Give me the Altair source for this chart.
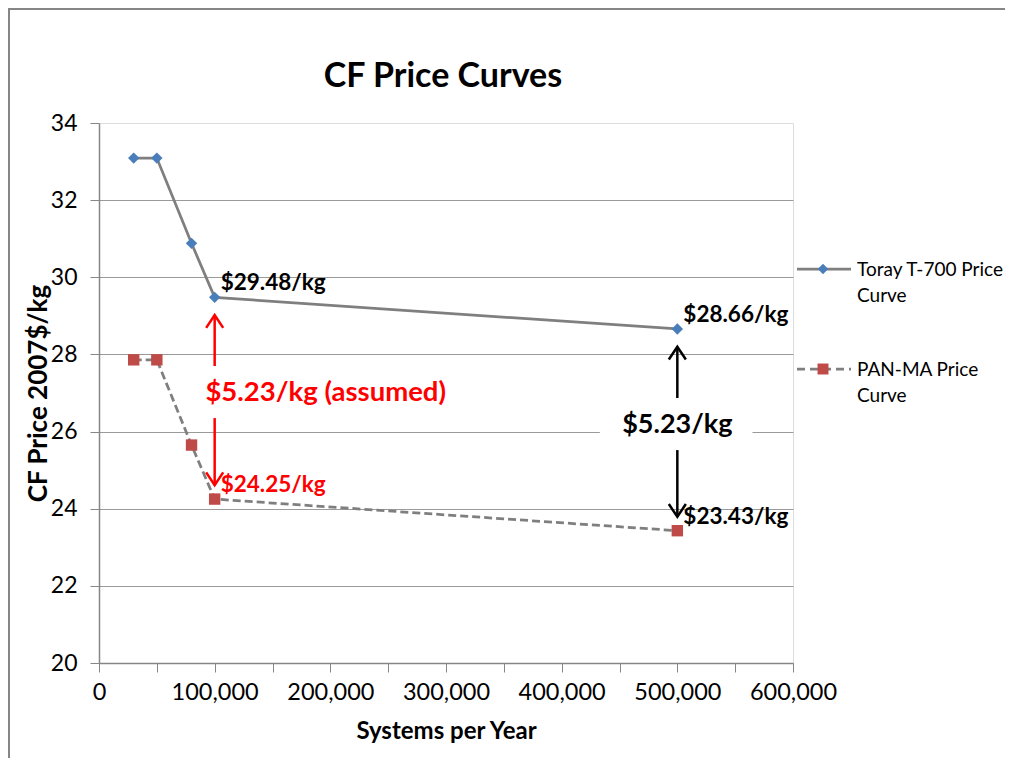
import altair as alt
import pandas as pd

# ---------------- data ----------------
chart_title = "CF Price Curves"
systems = [30000, 50000, 80000, 100000, 500000]
toray_price = [33.09, 33.09, 30.88, 29.48, 28.66]
pan_price = [27.86, 27.86, 25.65, 24.25, 23.43]
series_names = ["Toray T-700 Price Curve", "PAN-MA Price Curve"]
legend_lines = [["Toray T-700 Price", "Curve"], ["PAN-MA Price", "Curve"]]

label_x = [100000, 500000, 100000, 500000]
label_y = [29.48, 28.66, 24.25, 23.43]
label_text = ["$29.48/kg", "$28.66/kg", "$24.25/kg", "$23.43/kg"]
label_color = ["#000000", "#000000", "#FF0000", "#000000"]

gap_arrow_x = [100000, 500000]
gap_text_x = [196000, 500000]
gap_text_y = [27.0, 26.17]
gap_text = ["$5.23/kg (assumed)", "$5.23/kg"]
gap_color = ["#FF0000", "#000000"]
gap_top = [29.48, 28.66]
gap_bottom = [24.25, 23.43]

box_x = [433000]
box_x2 = [565000]
box_y = [25.62]
box_y2 = [26.72]

FONT = "Lato"
GRAY = "#7F7F7F"
BLUE = "#4A7EBB"
RED = "#BE4B48"

W, H = 694, 540
PAD = {"left": 91, "top": 115, "right": 212, "bottom": 95}

# ---------------- tables ----------------
lines_df = pd.DataFrame(
    {
        "x": systems * 2,
        "y": toray_price + pan_price,
        "series": [series_names[0]] * len(systems) + [series_names[1]] * len(systems),
    }
)
labels_df = pd.DataFrame({"x": label_x, "y": label_y, "t": label_text, "c": label_color})
gap_df = pd.DataFrame({"x": gap_text_x, "y": gap_text_y, "t": gap_text, "c": gap_color})

arrow_rows = []
for ax, ty, top, bot, col in zip(gap_arrow_x, gap_text_y, gap_top, gap_bottom, gap_color):
    arrow_rows.append({"x": ax, "y1": ty + 0.70, "y2": top - 0.46, "c": col,
                       "shape": "M-1,1.5L0,0L1,1.5"})
    arrow_rows.append({"x": ax, "y1": ty - 0.65, "y2": bot + 0.36, "c": col,
                       "shape": "M-1,-1.5L0,0L1,-1.5"})
arrows_df = pd.DataFrame(arrow_rows)
box_df = pd.DataFrame({"x": box_x, "x2": box_x2, "y": box_y, "y2": box_y2})

xscale = alt.Scale(domain=[0, 600000], nice=False)
yscale = alt.Scale(domain=[20, 34], nice=False, zero=False)

x_axis = alt.Axis(
    values=list(range(0, 600001, 50000)),
    labelExpr="datum.value % 100000 === 0 ? format(datum.value, ',') : ''",
    grid=False,
    tickSize=9,
    tickColor="#868686",
    domainColor="#868686",
    domainWidth=1.5,
    labelFont=FONT,
    labelFontSize=23.5,
    labelColor="#000000",
    labelPadding=8,
    labelFlush=False,
    title="Systems per Year",
    titleFont=FONT,
    titleFontSize=24,
    titleFontWeight="bold",
    titleColor="#000000",
    titlePadding=16,
)
y_axis = alt.Axis(
    values=[20 + 0.5 * i for i in range(29)],
    labelExpr="datum.value % 2 === 0 ? datum.label : ''",
    grid=True,
    gridColor="#9A9A9A",
    gridOpacity={
        "condition": {"test": "datum.value % 2 === 0 && datum.value < 34", "value": 1},
        "value": 0,
    },
    tickSize={"condition": {"test": "datum.value % 2 === 0", "value": 9}, "value": 5},
    tickColor="#868686",
    domainColor="#868686",
    domainWidth=1.5,
    labelFont=FONT,
    labelFontSize=23,
    labelColor="#000000",
    labelPadding=13,
    labelFlush=False,
    title="CF Price 2007$/kg",
    titleFont=FONT,
    titleFontSize=26,
    titleFontWeight="bold",
    titleColor="#000000",
    titleAngle=-90,
    titleX=-61,
    titleY=H / 2,
    titleAlign="center",
    titleBaseline="middle",
)

frame_df = pd.DataFrame({"k": [0]})
frame_top = alt.Chart(frame_df).mark_rule(color="#868686", strokeWidth=2).encode(
    x=alt.value(-PAD["left"]),
    x2=alt.value(W + PAD["right"] + 40),
    y=alt.value(-PAD["top"] + 1),
)
frame_left = alt.Chart(frame_df).mark_rule(color="#868686", strokeWidth=2).encode(
    x=alt.value(-PAD["left"] + 1),
    y=alt.value(-PAD["top"]),
    y2=alt.value(H + PAD["bottom"] + 40),
)

title_mark = alt.Chart(pd.DataFrame({"t": [chart_title]})).mark_text(
    font=FONT, fontSize=34, fontWeight="bold", color="#000000",
    align="center", baseline="alphabetic"
).encode(x=alt.value(W / 2 - 3), y=alt.value(-36), text="t:N")

toray_line = alt.Chart(lines_df).transform_filter(
    alt.datum.series == series_names[0]
).mark_line(color=GRAY, strokeWidth=2.75).encode(
    x=alt.X("x:Q", scale=xscale, axis=x_axis),
    y=alt.Y("y:Q", scale=yscale, axis=y_axis),
)
pan_line = alt.Chart(lines_df).transform_filter(
    alt.datum.series == series_names[1]
).mark_line(color=GRAY, strokeWidth=2.75, strokeDash=[8, 4]).encode(
    x=alt.X("x:Q", scale=xscale),
    y=alt.Y("y:Q", scale=yscale),
)
toray_pts = alt.Chart(lines_df).transform_filter(
    alt.datum.series == series_names[0]
).mark_point(shape="diamond", size=130, filled=True, color=BLUE, opacity=1).encode(
    x="x:Q", y="y:Q"
)
pan_pts = alt.Chart(lines_df).transform_filter(
    alt.datum.series == series_names[1]
).mark_point(shape="square", size=130, filled=True, color=RED, opacity=1).encode(
    x="x:Q", y="y:Q"
)

box = alt.Chart(box_df).mark_rect(fill="white").encode(
    x="x:Q", x2="x2:Q", y="y:Q", y2="y2:Q"
)

arrow_lines = alt.Chart(arrows_df).mark_rule(strokeWidth=2.5).encode(
    x="x:Q", y="y1:Q", y2="y2:Q", color=alt.Color("c:N", scale=None)
)
arrow_heads = alt.Chart(arrows_df).mark_point(
    filled=False, size=290, strokeWidth=2.5, opacity=1
).encode(
    x="x:Q", y="y2:Q",
    shape=alt.Shape("shape:N", scale=None),
    color=alt.Color("c:N", scale=None),
)

point_labels = alt.Chart(labels_df).mark_text(
    font=FONT, fontSize=22.5, fontWeight="bold", align="left", baseline="middle", dx=6, dy=-14
).encode(x="x:Q", y="y:Q", text="t:N", color=alt.Color("c:N", scale=None))

gap_red = alt.Chart(gap_df.iloc[[0]]).mark_text(
    font=FONT, fontSize=27.5, fontWeight="bold", align="center", baseline="middle"
).encode(x="x:Q", y="y:Q", text="t:N", color=alt.Color("c:N", scale=None))
gap_black = alt.Chart(gap_df.iloc[[1]]).mark_text(
    font=FONT, fontSize=27, fontWeight="bold", align="center", baseline="middle"
).encode(x="x:Q", y="y:Q", text="t:N", color=alt.Color("c:N", scale=None))

# ---------------- legend (drawn beside the plot) ----------------
leg_df = pd.DataFrame({"name": series_names, "label": ["\n".join(l) for l in legend_lines]})
LX0, LX1, LXM, LXT = 698, 752, 724, 758
LY = [146, 246]

leg_parts = []
for i in range(2):
    d = leg_df.iloc[[i]]
    rule_kw = dict(color=GRAY, strokeWidth=2.75)
    if i == 1:
        rule_kw["strokeDash"] = [8, 5]
    leg_parts.append(
        alt.Chart(d).mark_rule(**rule_kw).encode(
            x=alt.value(LX0), x2=alt.value(LX1), y=alt.value(LY[i])
        )
    )
    leg_parts.append(
        alt.Chart(d).mark_point(
            shape="diamond" if i == 0 else "square", size=110 if i == 0 else 120,
            filled=True, color=BLUE if i == 0 else RED, opacity=1
        ).encode(x=alt.value(LXM), y=alt.value(LY[i]))
    )
    leg_parts.append(
        alt.Chart(d).mark_text(
            font=FONT, fontSize=19, align="left", baseline="alphabetic",
            lineBreak="\n", lineHeight=26, color="#000000"
        ).encode(x=alt.value(LXT), y=alt.value(LY[i] + 7), text="label:N")
    )

chart = alt.layer(
    frame_top, frame_left, title_mark, toray_line, pan_line, toray_pts, pan_pts, box,
    arrow_lines, arrow_heads, point_labels, gap_red, gap_black, *leg_parts
).properties(
    width=W,
    height=H,
    autosize=alt.AutoSizeParams(type="none"),
    padding=PAD,
).configure_view(
    stroke="#7BA0D0", strokeWidth=1
).configure(background="white")

chart.save("out.html", embed_options={"renderer": "svg", "actions": False})
